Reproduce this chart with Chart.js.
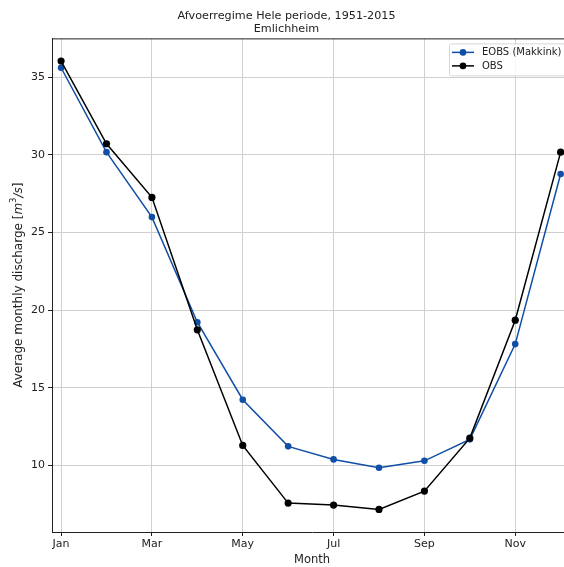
<!DOCTYPE html>
<html>
<head>
<meta charset="utf-8">
<script src="https://cdn.jsdelivr.net/npm/chart.js@4/dist/chart.umd.min.js"></script>
<style>
  html, body { margin: 0; padding: 0; background: #fff; overflow: hidden; }
  #wrap { width: 576px; height: 567px; position: relative; }
</style>
</head>
<body>
<div id="wrap"><canvas id="c" width="576" height="567"></canvas></div>
<script>
// Monthly discharge regime for Emlichheim (1951-2015)
const months = [1, 2, 3, 4, 5, 6, 7, 8, 9, 10, 11, 12];
const monthNames = ['Jan', 'Feb', 'Mar', 'Apr', 'May', 'Jun', 'Jul', 'Aug', 'Sep', 'Oct', 'Nov', 'Dec'];
const eobsMakkink = [35.60, 30.17, 25.99, 19.23, 14.24, 11.24, 10.40, 9.86, 10.31, 11.69, 17.82, 28.76];
const obs = [36.03, 30.71, 27.26, 18.74, 11.30, 7.59, 7.46, 7.18, 8.36, 11.77, 19.36, 30.17];
const xTicks = [1, 3, 5, 7, 9, 11];
const yTicks = [10, 15, 20, 25, 30, 35];

const BLUE = '#0f4fa6';
const FONT = "'DejaVu Sans', sans-serif";

const toPoints = vals => vals.map((v, i) => ({ x: months[i], y: v }));

// Top spine, rotated y label with math part, and legend box
const extras = {
  id: 'extras',
  afterDraw(chart) {
    const { ctx, chartArea: a } = chart;
    ctx.save();
    ctx.strokeStyle = '#222';
    ctx.lineWidth = 1;
    ctx.beginPath();
    ctx.moveTo(a.left, a.top + 0.5);
    ctx.lineTo(a.right, a.top + 0.5);
    ctx.stroke();

    // y axis label: "Average monthly discharge [m^3/s]"
    const parts = [
      { t: 'Average monthly discharge [', f: `12px ${FONT}`, dy: 0 },
      { t: 'm', f: `italic 12px ${FONT}`, dy: 0 },
      { t: '3', f: `8.5px ${FONT}`, dy: -5 },
      { t: '/s', f: `italic 12px ${FONT}`, dy: 0 },
      { t: ']', f: `12px ${FONT}`, dy: 0 }
    ];
    let total = 0;
    parts.forEach(p => { ctx.font = p.f; p.w = ctx.measureText(p.t).width; total += p.w; });
    ctx.translate(19, (a.top + a.bottom) / 2);
    ctx.rotate(-Math.PI / 2);
    ctx.fillStyle = '#222';
    ctx.textBaseline = 'middle';
    ctx.textAlign = 'left';
    let x = -total / 2;
    parts.forEach(p => { ctx.font = p.f; ctx.fillText(p.t, x, p.dy); x += p.w; });
    ctx.restore();

    // legend
    ctx.save();
    const bx = 449, by = a.top + 5, bw = 120, bh = 32;
    ctx.fillStyle = 'rgba(255,255,255,0.85)';
    ctx.strokeStyle = '#d6d6d6';
    ctx.lineWidth = 1;
    ctx.beginPath();
    ctx.roundRect(bx + 0.5, by + 0.5, bw, bh, 2);
    ctx.fill();
    ctx.stroke();
    ctx.font = `10px ${FONT}`;
    ctx.textBaseline = 'middle';
    chart.data.datasets.forEach((ds, i) => {
      const cy = by + 9 + i * 13.5;
      ctx.strokeStyle = ds.borderColor;
      ctx.lineWidth = 1.5;
      ctx.beginPath();
      ctx.moveTo(bx + 3, cy);
      ctx.lineTo(bx + 25, cy);
      ctx.stroke();
      ctx.fillStyle = ds.backgroundColor;
      ctx.beginPath();
      ctx.arc(bx + 14, cy, 3.3, 0, Math.PI * 2);
      ctx.fill();
      ctx.fillStyle = '#222';
      ctx.fillText(ds.label, bx + 33, cy + 0.5);
    });
    ctx.restore();
  }
};

new Chart(document.getElementById('c'), {
  type: 'line',
  data: {
    datasets: [
      {
        label: 'EOBS (Makkink)',
        data: toPoints(eobsMakkink),
        borderColor: BLUE,
        backgroundColor: BLUE,
        pointBackgroundColor: BLUE,
        pointBorderWidth: 0,
        pointRadius: 3.3,
        borderWidth: 1.5,
        order: 1
      },
      {
        label: 'OBS',
        data: toPoints(obs),
        borderColor: '#000',
        backgroundColor: '#000',
        pointBackgroundColor: '#000',
        pointBorderWidth: 0,
        pointRadius: 3.6,
        borderWidth: 1.5,
        order: 0
      }
    ]
  },
  options: {
    responsive: false,
    animation: false,
    events: [],
    layout: { padding: { left: 0, right: 3, top: 0, bottom: 0 } },
    plugins: {
      legend: { display: false },
      tooltip: { enabled: false },
      title: {
        display: true,
        text: ['Afvoerregime Hele periode, 1951-2015', 'Emlichheim'],
        color: '#222',
        font: { family: FONT, size: 11.2, weight: 'normal', lineHeight: 1.2 },
        padding: { top: 9, bottom: 2.5 }
      }
    },
    scales: {
      x: {
        type: 'linear',
        min: 0.8,
        max: 12.25,
        afterBuildTicks(scale) { scale.ticks = xTicks.map(v => ({ value: v })); },
        afterFit(scale) { scale.height = 35; },
        ticks: {
          callback: v => monthNames[v - 1],
          color: '#222',
          font: { family: FONT, size: 11 },
          padding: 2,
          maxRotation: 0,
          autoSkip: false
        },
        grid: { color: '#cfcfcf', lineWidth: 1, tickColor: '#222', tickLength: 4, tickWidth: 1 },
        border: { display: true, color: '#222', width: 1 },
        title: {
          display: true,
          text: 'Month',
          color: '#222',
          font: { family: FONT, size: 11.5 },
          padding: { top: 0, bottom: 0 }
        }
      },
      y: {
        type: 'linear',
        min: 5.73,
        max: 37.49,
        afterBuildTicks(scale) { scale.ticks = yTicks.map(v => ({ value: v })); },
        afterFit(scale) { scale.width = 52; },
        ticks: {
          color: '#222',
          font: { family: FONT, size: 11 },
          padding: 3
        },
        grid: { color: '#cfcfcf', lineWidth: 1, tickColor: '#222', tickLength: 4, tickWidth: 1 },
        border: { display: true, color: '#222', width: 1 },
        title: { display: false }
      }
    }
  },
  plugins: [extras]
});
</script>
</body>
</html>
